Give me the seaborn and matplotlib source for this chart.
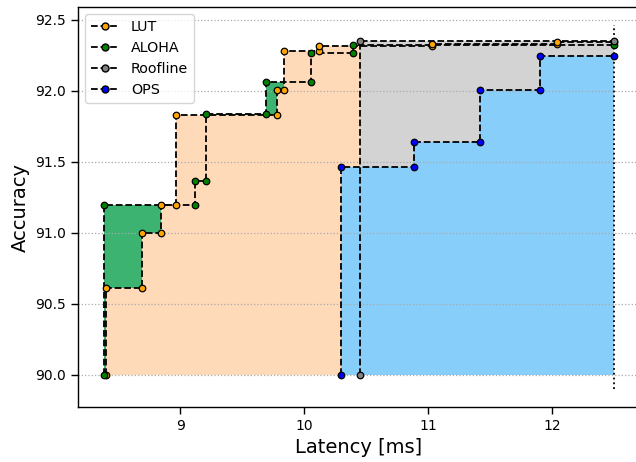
import matplotlib
matplotlib.use("Agg")
import matplotlib.pyplot as plt
from matplotlib.lines import Line2D
import seaborn as sns
import pandas as pd

# Pareto fronts: (latency [ms], accuracy) for each search method
lut_lat = [8.40, 8.694, 8.844, 8.965, 9.78, 9.836, 10.123, 11.027, 12.038]
lut_acc = [90.61, 91.00, 91.195, 91.825, 92.005, 92.275, 92.31, 92.328, 92.345]

aloha_lat = [8.383, 9.117, 9.212, 9.689, 10.056, 10.394]
aloha_acc = [91.195, 91.366, 91.836, 92.063, 92.263, 92.317]

roofline_lat = [10.447]
roofline_acc = [92.352]

ops_lat = [10.30, 10.885, 11.415, 11.90]
ops_acc = [91.465, 91.635, 92.005, 92.245]

series_names = ["LUT", "ALOHA", "Roofline", "OPS"]
marker_colors = ["orange", "green", "gray", "blue"]
fill_colors = ["peachpuff", "mediumseagreen", "lightgray", "lightskyblue"]

BASE_ACC = 90.0
LATENCY_LIMIT = 12.5
x_ticks = [9, 10, 11, 12]
y_ticks = [90.0, 90.5, 91.0, 91.5, 92.0, 92.5]


def staircase(lat, acc):
    """Corner points of the Pareto staircase, from the base up to the latency limit."""
    xs, ys = [lat[0]], [BASE_ACC]
    right_edges = list(lat[1:]) + [LATENCY_LIMIT]
    for i, (x, y) in enumerate(zip(lat, acc)):
        xs += [x, right_edges[i]]
        ys += [y, y]
    return pd.DataFrame({"latency": xs, "accuracy": ys})


fronts = {
    "LUT": staircase(lut_lat, lut_acc),
    "ALOHA": staircase(aloha_lat, aloha_acc),
    "Roofline": staircase(roofline_lat, roofline_acc),
    "OPS": staircase(ops_lat, ops_acc),
}

sns.set_style("ticks")
plt.rcParams.update({
    "font.family": ["DejaVu Sans"],
    "text.color": "black",
    "axes.labelcolor": "black",
    "xtick.color": "black",
    "ytick.color": "black",
})

fig = plt.figure(figsize=(6.36, 4.62), dpi=100)
ax = fig.add_axes([78 / 636, 55 / 462, 562 / 636, 400 / 462])

# filled areas under each front (green first so LUT covers it where it dominates)
fill_order = ["ALOHA", "LUT", "Roofline", "OPS"]
for z, name in enumerate(fill_order):
    df = fronts[name]
    color = fill_colors[series_names.index(name)]
    ax.fill_between(df["latency"], df["accuracy"], BASE_ACC,
                    color=color, linewidth=0, zorder=0.1 + 0.05 * z)

# dashed staircase outlines with colored corner markers
for name, mcolor in zip(series_names, marker_colors):
    df = fronts[name]
    sns.lineplot(data=df, x="latency", y="accuracy", sort=False, estimator=None,
                 color="black", linestyle="--", linewidth=1.3, ax=ax, zorder=2)
    sns.scatterplot(data=df, x="latency", y="accuracy", color=mcolor,
                    edgecolor="black", linewidth=0.9, s=22, ax=ax, zorder=3,
                    legend=False)

# latency constraint
ax.vlines(LATENCY_LIMIT, 89.9, 92.46, colors="black", linestyles=":", linewidth=1.3,
          zorder=2)

ax.set_xlim(8.177, 12.706)
ax.set_ylim(89.772, 92.588)
ax.set_xticks(x_ticks)
ax.set_yticks(y_ticks)
ax.set_yticklabels([f"{v:.1f}" for v in y_ticks])
ax.tick_params(labelsize=10, colors="black", length=5, width=1)

ax.set_axisbelow(True)
ax.yaxis.grid(True, linestyle=":", color="#aaaaaa", linewidth=0.9)
ax.xaxis.grid(False)
for side in ["left", "bottom", "top", "right"]:
    ax.spines[side].set_color("black")
    ax.spines[side].set_linewidth(1.0)

ax.set_xlabel("Latency [ms]", fontsize=14)
ax.set_ylabel("Accuracy", fontsize=14)

handles = [Line2D([], [], color="black", linestyle="--", linewidth=1.3, marker="o",
                  markerfacecolor=c, markeredgecolor="black", markersize=5)
           for c in marker_colors]
ax.legend(handles, series_names, loc="upper left", fontsize=10.3, frameon=True,
          handlelength=2.0)

fig.savefig("out.png", dpi=100)
